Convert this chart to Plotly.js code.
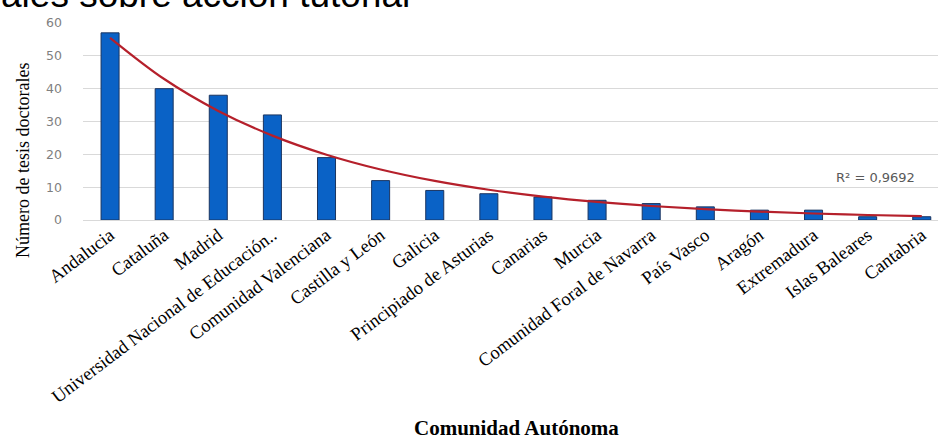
<!DOCTYPE html>
<html>
<head>
<meta charset="utf-8">
<script src="https://cdn.plot.ly/plotly-3.0.1.min.js"></script>
<style>html,body{margin:0;padding:0;background:#fff;}#chart{width:938px;height:441px;}</style>
</head>
<body>
<div id="chart"></div>
<script>
const categories = ["Andalucia", "Cataluña", "Madrid", "Universidad Nacional de Educación..", "Comunidad Valenciana", "Castilla y León", "Galicia", "Principiado de Asturias", "Canarias", "Murcia", "Comunidad Foral de Navarra", "País Vasco", "Aragón", "Extremadura", "Islas Baleares", "Cantabria"];
const tesis = [57, 40, 38, 32, 19, 12, 9, 8, 7, 6, 5, 4, 3, 3, 1, 1];
const r2Text = "R² = 0,9692";
const xTitle = "Comunidad Autónoma";
const yTitle = "Número de tesis doctorales";
const captionText = "ales sobre acción tutorial";

// Exponential trend line (least squares on ln y), as the spreadsheet does
const n = tesis.length;
const xs = tesis.map((v, i) => i + 1);
const ly = tesis.map(v => Math.log(v));
const mx = xs.reduce((a, b) => a + b, 0) / n;
const my = ly.reduce((a, b) => a + b, 0) / n;
let sxy = 0, sxx = 0;
for (let i = 0; i < n; i++) { sxy += (xs[i] - mx) * (ly[i] - my); sxx += (xs[i] - mx) * (xs[i] - mx); }
const slope = sxy / sxx;
const inter = my - slope * mx;
const trend = xs.map(x => Math.exp(inter + slope * x));

const W = 938, H = 441, L = 83, R = 0, T = 23, B = 221;
const pw = W - L - R, ph = H - T - B;
const px = x => (x - L) / pw;
const py = y => 1 - (y - T) / ph;

const data = [
  {
    type: 'bar', x: categories, y: tesis, width: 0.333,
    marker: {color: '#0A62C6', line: {color: '#1B3560', width: 1}},
    hoverinfo: 'x+y'
  },
  {
    type: 'scatter', mode: 'lines', x: categories, y: trend,
    line: {color: '#B5202B', width: 2.2, shape: 'spline'},
    hoverinfo: 'skip'
  }
];

const layout = {
  width: W, height: H,
  margin: {l: L, r: R, t: T, b: B, pad: 0},
  paper_bgcolor: '#ffffff', plot_bgcolor: '#ffffff',
  showlegend: false,
  bargap: 0.667,
  xaxis: {
    type: 'category', range: [-0.5, 15.3],
    tickangle: -37, ticks: '', showgrid: false, zeroline: false, showline: false,
    tickfont: {family: 'Liberation Serif, Times New Roman, serif', size: 18.5, color: '#000000'},
    automargin: false, fixedrange: true
  },
  yaxis: {
    range: [0, 60], dtick: 10, tick0: 0,
    showgrid: true, gridcolor: '#D9D9D9', gridwidth: 1,
    zeroline: true, zerolinecolor: '#D9D9D9', zerolinewidth: 1,
    showline: false, ticks: '', ticklabelstandoff: 20,
    tickfont: {family: 'DejaVu Sans, Verdana, sans-serif', size: 12.5, color: '#7F7F7F'},
    automargin: false, fixedrange: true
  },
  annotations: [
    {
      text: captionText, xref: 'paper', yref: 'paper', x: px(0), y: 1.034,
      xanchor: 'left', yanchor: 'bottom', showarrow: false, borderpad: 0,
      font: {family: 'Liberation Sans, Arial, sans-serif', size: 37, color: '#000000'}
    },
    {
      text: yTitle, xref: 'paper', yref: 'paper', x: px(23), y: py(161),
      xanchor: 'center', yanchor: 'middle', textangle: -90, showarrow: false,
      font: {family: 'Liberation Serif, Times New Roman, serif', size: 18, color: '#000000'}
    },
    {
      text: '<b>' + xTitle + '</b>', xref: 'paper', yref: 'paper', x: px(516), y: py(441),
      xanchor: 'center', yanchor: 'bottom', showarrow: false, borderpad: 0,
      font: {family: 'Liberation Serif, Times New Roman, serif', size: 21, color: '#000000'}
    },
    {
      text: r2Text, xref: 'paper', yref: 'paper', x: px(875), y: py(177),
      xanchor: 'center', yanchor: 'middle', showarrow: false,
      font: {family: 'DejaVu Sans, Verdana, sans-serif', size: 13, color: '#595959'}
    }
  ]
};

Plotly.newPlot('chart', data, layout, {displayModeBar: false, staticPlot: true});
</script>
</body>
</html>
